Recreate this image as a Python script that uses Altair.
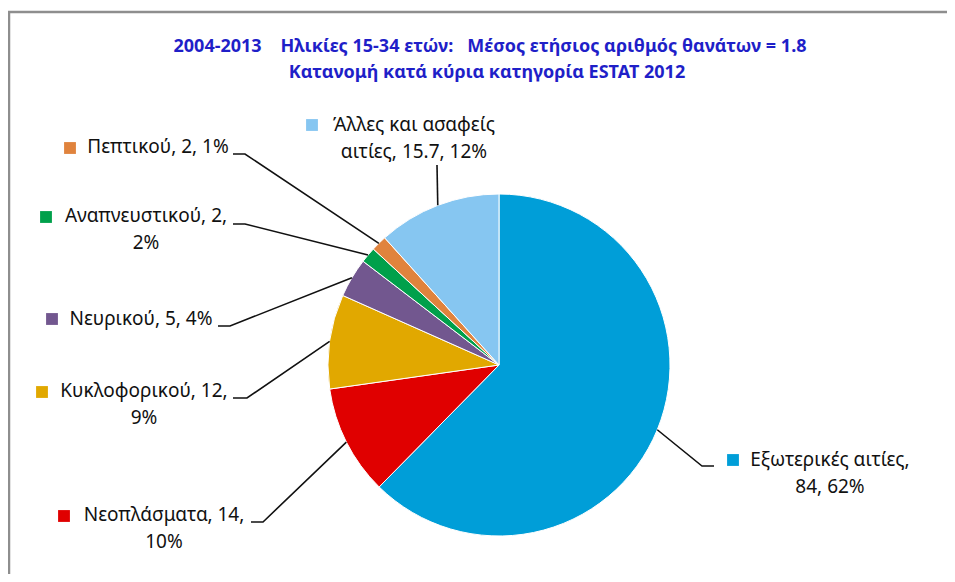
import altair as alt
import pandas as pd
import numpy as np

# ---------------- data ----------------
categories = ["Εξωτερικές αιτίες", "Νεοπλάσματα", "Κυκλοφορικού", "Νευρικού",
              "Αναπνευστικού", "Πεπτικού", "Άλλες και ασαφείς αιτίες"]
values = [84, 14, 12, 5, 2, 2, 15.7]
value_labels = ["84", "14", "12", "5", "2", "2", "15.7"]
percent_labels = ["62%", "10%", "9%", "4%", "2%", "1%", "12%"]
colors = ["#009ed8", "#e00000", "#e1a800", "#72578f", "#00a04b", "#e0833d", "#86c6f1"]
NB = "\u00a0"
title_lines = ["2004-2013" + NB * 4 + "Ηλικίες 15-34 ετών:" + NB * 3 + "Μέσος ετήσιος αριθμός θανάτων = 1.8",
               "Κατανομή κατά κύρια κατηγορία ESTAT 2012"]

# ---------------- layout (page pixels of the reference) ----------------
OFF = 8
W, H = 939, 566
CX, CY, R = 499 - OFF, 365 - OFF, 171
FONT = "Noto Sans"
# words on first label line, square centre, text centre x, first line y, leader elbow, leader end
label_layout = {
    "Εξωτερικές αιτίες":        dict(words=2, sq=(733, 460), tx=830, ty=460, elbow=(702, 466), end=(714, 466)),
    "Νεοπλάσματα":              dict(words=2, sq=(64, 516),  tx=164, ty=515, elbow=(263, 522), end=(251, 522)),
    "Κυκλοφορικού":             dict(words=2, sq=(42, 392),  tx=144, ty=391, elbow=(247, 398), end=(233, 398)),
    "Νευρικού":                 dict(words=3, sq=(52, 319),  tx=141, ty=319, elbow=(230, 326), end=(218, 326)),
    "Αναπνευστικού":            dict(words=2, sq=(46, 217),  tx=146, ty=216, elbow=(245, 224), end=(233, 224)),
    "Πεπτικού":                 dict(words=3, sq=(70, 148),  tx=158, ty=147, elbow=(245, 154), end=(233, 154)),
    "Άλλες και ασαφείς αιτίες": dict(words=3, sq=(312, 125), tx=414, ty=125, elbow=(437, 165), end=(437, 165)),
}
LINE_H = 27

# ---------------- tables ----------------
pie = pd.DataFrame({"cat": categories, "value": values, "idx": range(len(categories))})

total = float(np.sum(values))
cum = np.cumsum(values)
mid = 2 * np.pi * (cum - np.array(values) / 2) / total

lead_rows, sq_rows, txt_rows = [], [], []
for i, c in enumerate(categories):
    L = label_layout[c]
    ex = CX + R * np.sin(mid[i])
    ey = CY - R * np.cos(mid[i])
    pts = [(ex, ey), (L["elbow"][0] - OFF, L["elbow"][1] - OFF), (L["end"][0] - OFF, L["end"][1] - OFF)]
    for k, (px, py) in enumerate(pts):
        lead_rows.append({"cat": c, "k": k, "x": px, "y": py})
    sq_rows.append({"cat": c, "x": L["sq"][0] - OFF, "y": L["sq"][1] - OFF})
    words = f"{c}, {value_labels[i]}, {percent_labels[i]}".split(" ")
    lines = [" ".join(words[:L["words"]]), " ".join(words[L["words"]:])]
    for j, t in enumerate(lines):
        if t:
            txt_rows.append({"cat": c, "t": t, "x": L["tx"] - OFF, "y": L["ty"] - OFF + j * LINE_H})

lead = pd.DataFrame(lead_rows)
sq = pd.DataFrame(sq_rows)
txt = pd.DataFrame(txt_rows)
ttl = pd.DataFrame({"t": title_lines, "x": [490 - OFF, 487 - OFF], "y": [47 - OFF, 73 - OFF]})
frame = pd.DataFrame({"x": [1, 1, W], "y": [H, 4, 4], "k": [0, 1, 2]})

xs = alt.Scale(domain=[0, W], nice=False, zero=False)
ys = alt.Scale(domain=[0, H], nice=False, zero=False, reverse=True)
col = alt.Scale(domain=categories, range=colors)

X = lambda: alt.X("x:Q", scale=xs, axis=None)
Y = lambda: alt.Y("y:Q", scale=ys, axis=None)

frame_l = alt.Chart(frame).mark_line(color="#8e8e8e", strokeWidth=2.5).encode(
    x=X(), y=Y(), order="k:O")

arcs = alt.Chart(pie).mark_arc(outerRadius=R, stroke="white", strokeWidth=1).encode(
    theta=alt.Theta("value:Q", stack=True),
    color=alt.Color("cat:N", scale=col, legend=None),
    order=alt.Order("idx:Q"),
    x=alt.value(CX), y=alt.value(CY),
)

leaders = alt.Chart(lead).mark_line(color="#111111", strokeWidth=1.6).encode(
    x=X(), y=Y(), detail="cat:N", order="k:O")

squares = alt.Chart(sq).mark_square(size=140, opacity=1, filled=True).encode(
    x=X(), y=Y(), color=alt.Color("cat:N", scale=col, legend=None))

texts = alt.Chart(txt).mark_text(font=FONT, fontSize=19, color="#111111", align="center",
                                 baseline="middle").encode(x=X(), y=Y(), text="t:N")

titles = alt.Chart(ttl).mark_text(font=FONT, fontSize=18, fontWeight="bold", color="#1f1fc8",
                                  align="center", baseline="middle").encode(x=X(), y=Y(), text="t:N")

chart = alt.layer(frame_l, arcs, leaders, squares, texts, titles).properties(
    width=W, height=H, autosize="none", padding=0, background="white"
).configure_view(stroke=None)

chart.save("out.html", embed_options={"renderer": "svg", "actions": False})
